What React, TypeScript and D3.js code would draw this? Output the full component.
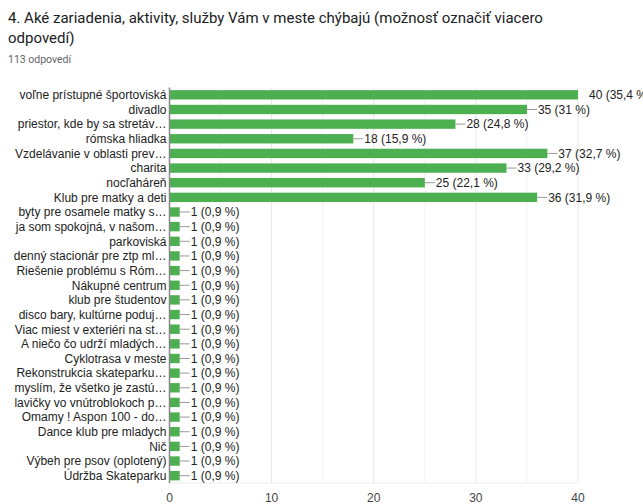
import React from "react";
import * as d3 from "d3";

const categories = [
  "voľne prístupné športoviská",
  "divadlo",
  "priestor, kde by sa stretáv…",
  "rómska hliadka",
  "Vzdelávanie v oblasti prev…",
  "charita",
  "nocľaháreň",
  "Klub pre matky a deti",
  "byty pre osamele matky s…",
  "ja som spokojná, v našom…",
  "parkoviská",
  "denný stacionár pre ztp ml…",
  "Riešenie problému s Róm…",
  "Nákupné centrum",
  "klub pre študentov",
  "disco bary, kultúrne poduj…",
  "Viac miest v exteriéri na st…",
  "A niečo čo udrží mladých…",
  "Cyklotrasa v meste",
  "Rekonstrukcia skateparku…",
  "myslím, že všetko je zastú…",
  "lavičky vo vnútroblokoch p…",
  "Omamy ! Aspon 100 - do…",
  "Dance klub pre mladych",
  "Nič",
  "Výbeh pre psov (oplotený)",
  "Údržba Skateparku",
];
const counts = [40, 35, 28, 18, 37, 33, 25, 36, 1, 1, 1, 1, 1, 1, 1, 1, 1, 1, 1, 1, 1, 1, 1, 1, 1, 1, 1];
const percents = ["35,4", "31", "24,8", "15,9", "32,7", "29,2", "22,1", "31,9", "0,9", "0,9", "0,9", "0,9", "0,9", "0,9", "0,9", "0,9", "0,9", "0,9", "0,9", "0,9", "0,9", "0,9", "0,9", "0,9", "0,9", "0,9", "0,9"];
const xTicks = [0, 10, 20, 30, 40];
const gridValues = [5, 10, 15, 20, 25, 30, 35, 40];
const titleLines = ["4. Aké zariadenia, aktivity, služby Vám v meste chýbajú (možnosť označiť viacero", "odpovedí)"];
const subtitle = "113 odpovedí";

export default function App() {
  const W = 643, H = 504;
  const left = 169.5, right = 578, top = 87.5, bottom = 483;
  const x = d3.scaleLinear().domain([0, 40]).range([left, right]);
  const y = d3.scaleBand<string>().domain(categories).range([top, bottom]).paddingInner(0.36).paddingOuter(0.18);
  const font = "'Liberation Sans', Arial, sans-serif";
  return (
    <svg width={W} height={H} style={{ position: "absolute", left: 0, top: 0, background: "#fff" }}>
      <text x={8} y={23} fontFamily="Roboto, sans-serif" fontSize={15} fill="#202124">{titleLines[0]}</text>
      <text x={8} y={43} fontFamily="Roboto, sans-serif" fontSize={15} fill="#202124">{titleLines[1]}</text>
      <text x={8} y={63} fontFamily="Roboto, sans-serif" fontSize={10.5} fill="#5f6368">{subtitle}</text>
      {gridValues.map((v) => (
        <line key={v} x1={x(v)} x2={x(v)} y1={top} y2={bottom} stroke={v % 10 === 0 ? "#e6e6e6" : "#f2f2f2"} strokeWidth={1} />
      ))}
      <line x1={left} x2={right} y1={bottom} y2={bottom} stroke="#ececec" />
      {categories.map((c, i) => {
        const yy = y(c)!;
        const h = y.bandwidth();
        const cy = yy + h / 2;
        const xe = x(counts[i]);
        return (
          <g key={c}>
            <rect x={left + 0.5} y={yy} width={xe - left - 0.5} height={h} fill="#4caf50" />
            <line x1={xe} x2={xe + 10} y1={cy} y2={cy} stroke={counts[i] === 40 ? "#fff" : "#999"} strokeWidth={1} />
            <text x={xe + 11} y={cy} dy="0.36em" fontFamily={font} fontSize={12} fill="#222">{`${counts[i]} (${percents[i]} %)`}</text>
            <text x={left - 3} y={cy} dy="0.36em" textAnchor="end" fontFamily={font} fontSize={12} fill="#222">{c}</text>
          </g>
        );
      })}
      <line x1={left} x2={left} y1={top} y2={bottom} stroke="#888" strokeWidth={1.5} />
      {xTicks.map((t) => (
        <text key={t} x={x(t)} y={502} textAnchor="middle" fontFamily={font} fontSize={12} fill="#444">{t}</text>
      ))}
    </svg>
  );
}
